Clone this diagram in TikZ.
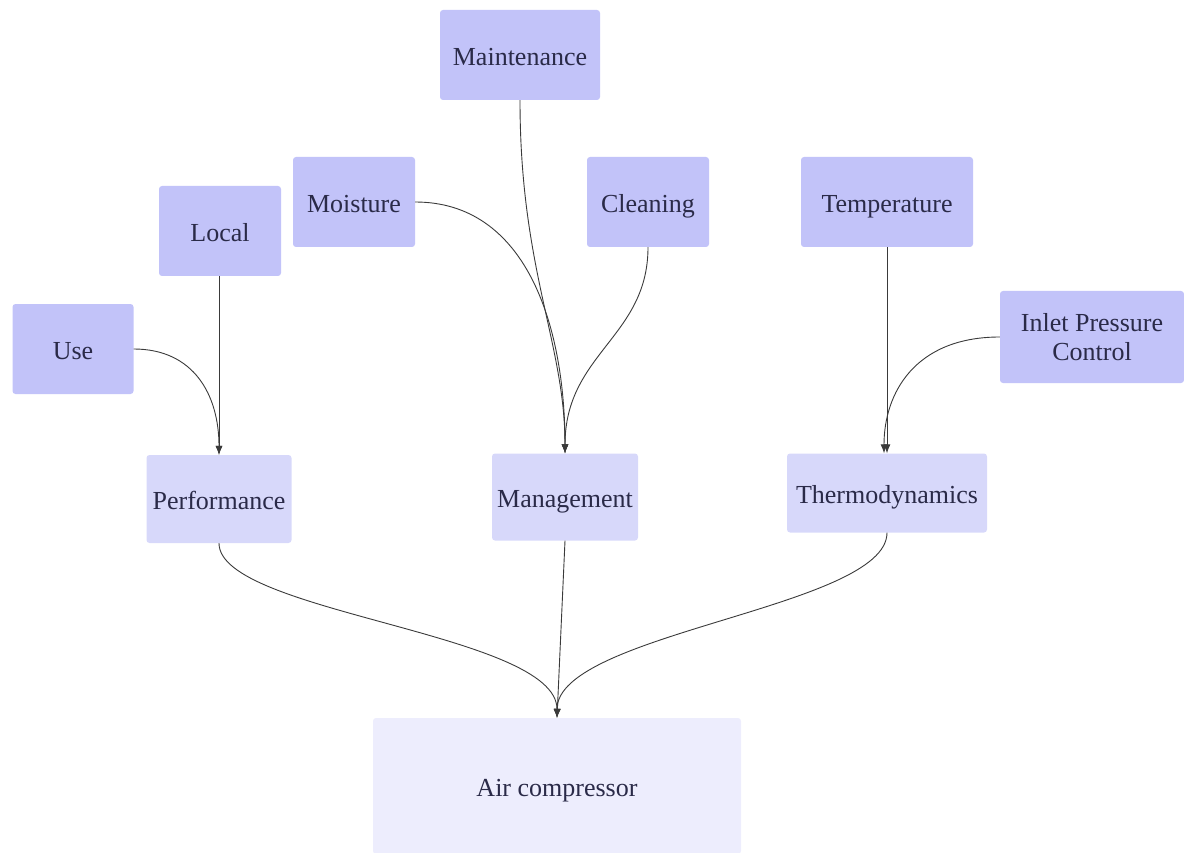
\documentclass[tikz,border=0pt]{standalone}
\usepackage{fontspec}
\setmainfont{Liberation Serif}
\usetikzlibrary{arrows.meta}
\definecolor{topfill}{HTML}{C2C3F9}
\definecolor{midfill}{HTML}{D7D8FA}
\definecolor{basefill}{HTML}{EDEDFD}
\definecolor{labelink}{HTML}{2A2A48}
\definecolor{wire}{HTML}{3A3A3A}
\begin{document}
\begin{tikzpicture}[x=1pt,y=-1pt,
  box/.style={rectangle, rounded corners=3pt, inner sep=0pt, align=center,
    text=labelink, font=\rmfamily\fontsize{26}{29}\selectfont},
  oneline/.style={text height=24pt, text depth=3pt},
  upper/.style={box, fill=topfill},
  middle/.style={box, fill=midfill, oneline},
  base/.style={box, fill=basefill, oneline},
  link/.style={draw=wire, line width=0.9pt, -{Latex[length=9pt,width=7pt]}}]
\useasboundingbox (0,0) rectangle (1184,853);
% source boxes
\node[upper, oneline, minimum width=160pt, minimum height=90pt] (maint) at (520,55) {Maintenance};
\node[upper, oneline, minimum width=122pt, minimum height=90pt] (moist) at (354,202) {Moisture};
\node[upper, oneline, minimum width=122pt, minimum height=90pt] (clean) at (648,202) {Cleaning};
\node[upper, oneline, minimum width=172pt, minimum height=90pt] (temp) at (887,202) {Temperature};
\node[upper, oneline, minimum width=122pt, minimum height=90pt] (local) at (220,231) {Local};
\node[upper, oneline, minimum width=121pt, minimum height=90pt] (use) at (73,349) {Use};
\node[upper, minimum width=184pt, minimum height=92pt] (inlet) at (1092,337) {Inlet Pressure\\Control};
% intermediate boxes
\node[middle, minimum width=145pt, minimum height=88pt] (perf) at (219,499) {Performance};
\node[middle, minimum width=146pt, minimum height=87pt] (mgmt) at (565,497) {Management};
\node[middle, minimum width=200pt, minimum height=79pt] (thermo) at (887,493) {Thermodynamics};
% result box
\node[base, minimum width=368pt, minimum height=136pt] (air) at (557,786) {Air compressor};
% connectors into Performance
\draw[link] (local.south -| perf.north) -- (perf.north);
\draw[link] (use.east) .. controls +(60,0) and +(0,-60) .. (perf.north);
% connectors into Management
\draw[link] (moist.east) .. controls +(110,0) and +(0,-130) .. (mgmt.north);
\draw[link] (maint.south) .. controls +(0,170) and +(0,-110) .. (mgmt.north);
\draw[link] (clean.south) .. controls +(0,90) and +(0,-100) .. (mgmt.north);
% connectors into Thermodynamics
\draw[link] (temp.south) -- (thermo.north);
\draw[link] (inlet.west) .. controls +(-85,0) and +(0,-60) .. ([xshift=-3pt]thermo.north);
% connectors into Air compressor
\draw[link] (perf.south) .. controls +(0,70) and +(0,-85) .. (air.north);
\draw[link] (mgmt.south) -- (air.north);
\draw[link] (thermo.south) .. controls +(0,75) and +(0,-85) .. (air.north);
\end{tikzpicture}
\end{document}
